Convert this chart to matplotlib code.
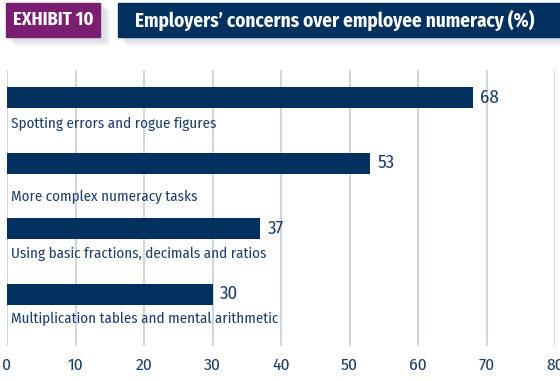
import matplotlib.pyplot as plt
from matplotlib.patches import Rectangle

categories = [
    "Spotting errors and rogue figures",
    "More complex numeracy tasks",
    "Using basic fractions, decimals and ratios",
    "Multiplication tables and mental arithmetic",
]
values = [68, 53, 37, 30]
ticks = [0, 10, 20, 30, 40, 50, 60, 70, 80]

# how far each caption sits below its bar (in bar-slot units)
label_drop = [0.40, 0.52, 0.38, 0.38]

navy = "#02305f"
text_navy = "#1d3d6b"
purple = "#7a1e72"
grid_col = "#c9d2de"

plt.rcParams["font.family"] = ["Fira Sans Condensed", "DejaVu Sans"]

fig = plt.figure(figsize=(5.6, 3.81), dpi=100)
W, H = 560, 381

# plot area in pixels: x 7..555, y 70..346
ax = fig.add_axes([7 / W, 1 - 346 / H, 548 / W, 276 / H])
ax.set_xlim(0, 80)
ax.set_ylim(3.79, -0.42)

pos = list(range(len(values)))
ax.barh(pos, values, height=0.32, color=navy, zorder=3)
for p, v, c, d in zip(pos, values, categories, label_drop):
    ax.text(v + 1.1, p, str(v), va="center", ha="left", fontsize=13.5,
            color=text_navy, zorder=4)
    ax.text(0.6, p + d, c, va="center", ha="left", fontsize=10.8,
            color=text_navy, zorder=4)

ax.set_xticks(ticks)
ax.set_xticklabels([str(t) for t in ticks], fontsize=12.5, color=text_navy)
ax.tick_params(axis="x", length=0, pad=8)
ax.set_yticks([])
ax.grid(axis="x", color=grid_col, linewidth=1.3, zorder=0)
for s in ax.spines.values():
    s.set_visible(False)

# header boxes with a soft drop shadow
def box(x0, y0, x1, y1, color, label, tx, size):
    for i in range(7):
        fig.patches.append(Rectangle(((x0 + 3 + i) / W, 1 - (y1 + 2 + i) / H),
                                     (x1 - x0) / W, (y1 - y0) / H,
                                     transform=fig.transFigure,
                                     color="#a9b4c4", alpha=0.06, zorder=1))
    fig.patches.append(Rectangle((x0 / W, 1 - y1 / H), (x1 - x0) / W, (y1 - y0) / H,
                                 transform=fig.transFigure, color=color, zorder=2))
    fig.text(tx / W, 1 - (y0 + y1) / 2 / H, label, color="white", fontsize=size,
             fontweight="bold", va="center", ha="left", zorder=3)

box(6, 3, 100, 37, purple, "EXHIBIT 10", 13, 13.3)
box(118, 3, 566, 37, navy, "Employers\u2019 concerns over employee numeracy (%)", 135, 13.8)

fig.savefig("out.png", dpi=100)
